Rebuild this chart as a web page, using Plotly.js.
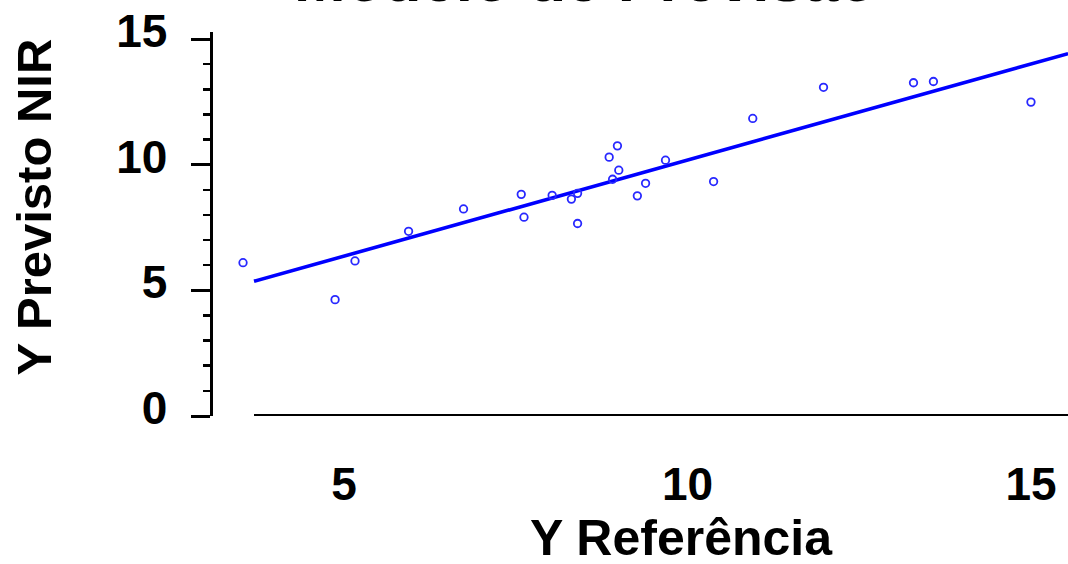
<!DOCTYPE html>
<html>
<head>
<meta charset="utf-8">
<script src="https://cdn.plot.ly/plotly-3.0.1.min.js"></script>
<style>
html,body{margin:0;padding:0;background:#fff;overflow:hidden;}
#chart{width:1068px;height:564px;}
</style>
</head>
<body>
<div id="chart"></div>
<script>
// Observed data: Y Referência vs Y Previsto NIR
const yReferencia = [3.53, 4.87, 5.16, 5.94, 6.74, 7.58, 7.62, 8.03, 8.31, 8.40, 8.40, 8.86,
                     8.98, 9.00, 8.91, 9.27, 9.39, 9.68, 10.38, 10.95, 11.98, 13.29, 13.58, 15.00];
const yPrevisto   = [6.10, 4.63, 6.17, 7.35, 8.24, 8.82, 7.91, 8.78, 8.63, 8.86, 7.66, 10.30,
                     10.75, 9.78, 9.42, 8.76, 9.26, 10.18, 9.33, 11.84, 13.08, 13.26, 13.31, 12.49];
// Fitted regression line end points
const fitX = [3.69, 15.54];
const fitY = [5.36, 14.42];
// Ticks
const xTickVals = [5, 10, 15];
const xTickText = ['5', '10', '15'];
const yTickVals = [0, 5, 10, 15];
const yTickText = ['0', '5', '10', '15'];

const FONT = 'Liberation Sans, Arial, Helvetica, sans-serif';
const BLUE = 'rgb(0,0,255)';

const traces = [
  {
    x: fitX, y: fitY, type: 'scatter', mode: 'lines',
    line: {color: BLUE, width: 3.6}, hoverinfo: 'skip', showlegend: false
  },
  {
    x: yReferencia, y: yPrevisto, type: 'scatter', mode: 'markers',
    marker: {symbol: 'circle-open', size: 7.5, color: 'rgb(40,40,255)', line: {color: 'rgb(40,40,255)', width: 1.8}},
    cliponaxis: false, showlegend: false
  }
];

const layout = {
  width: 1068, height: 564,
  margin: {l: 213, r: 0, t: 32, b: 148, pad: 0},
  paper_bgcolor: '#fff', plot_bgcolor: '#fff',
  showlegend: false,
  xaxis: {
    range: [3.093, 15.539],
    showline: false, zeroline: false, showgrid: false,
    tickmode: 'array', tickvals: xTickVals, ticktext: xTickText,
    ticks: '', ticklabelstandoff: 37,
    tickfont: {family: FONT, size: 46, color: '#000', weight: 'bold'},
    fixedrange: true
  },
  yaxis: {
    range: [0, 15.28],
    showline: true, linecolor: '#000', linewidth: 3.5,
    zeroline: false, showgrid: false,
    tickmode: 'array', tickvals: yTickVals, ticktext: yTickText,
    ticks: 'outside', ticklen: 19, tickwidth: 3, tickcolor: '#000',
    ticklabelstandoff: 14, ticklabelshift: -8,
    minor: {dtick: 1, ticks: 'outside', ticklen: 7, tickwidth: 2.5, tickcolor: '#000', showgrid: false},
    tickfont: {family: FONT, size: 46, color: '#000', weight: 'bold'},
    fixedrange: true
  },
  shapes: [
    {type: 'line', xref: 'x', yref: 'y', x0: fitX[0], x1: 15.539, y0: 0, y1: 0,
     line: {color: '#000', width: 4}, layer: 'above'}
  ],
  annotations: [
    {text: 'Modelo de Previsão', xref: 'paper', yref: 'paper', x: 0.435, y: 1,
     xanchor: 'center', yanchor: 'bottom', yshift: 16, showarrow: false,
     font: {family: FONT, size: 62, color: '#000', weight: 'bold'}},
    {text: 'Y Referência', xref: 'paper', yref: 'paper', x: 0.548, y: -0.32,
     xanchor: 'center', yanchor: 'middle', yshift: 1, showarrow: false,
     font: {family: FONT, size: 50, color: '#000', weight: 'bold'}},
    {text: 'Y Previsto NIR', xref: 'paper', yref: 'paper', x: -0.209, y: 0.544,
     xanchor: 'center', yanchor: 'middle', textangle: -90, showarrow: false,
     font: {family: FONT, size: 49, color: '#000', weight: 'bold'}}
  ]
};

Plotly.newPlot('chart', traces, layout, {displayModeBar: false, staticPlot: true});
</script>
</body>
</html>
